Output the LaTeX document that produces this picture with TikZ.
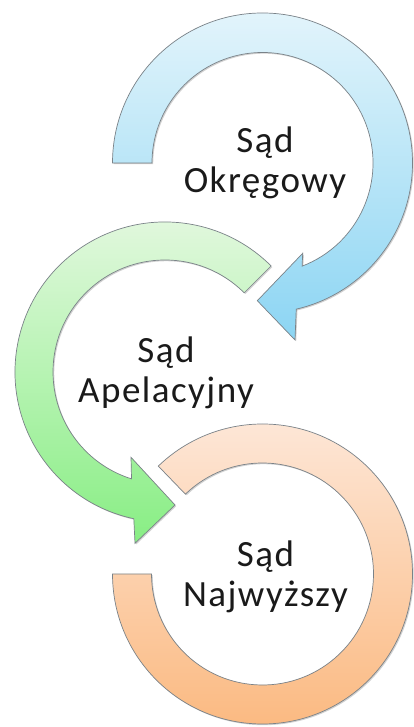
\documentclass[tikz,border=0pt]{standalone}
\usepackage{fontspec}
\setmainfont{Carlito}[LetterSpace=4]
\usetikzlibrary{shadows}
\definecolor{bluetop}{HTML}{E2F4FB}
\definecolor{bluebot}{HTML}{8CD5F3}
\definecolor{greentop}{HTML}{E4F8E0}
\definecolor{greenbot}{HTML}{88EE84}
\definecolor{orangetop}{HTML}{FDE6D6}
\definecolor{orangebot}{HTML}{FBBA82}
\definecolor{edgegray}{HTML}{7A8288}
\definecolor{txt}{HTML}{1A1A1A}
\tikzset{
  band/.style={draw=edgegray, line width=0.7pt, line join=miter,
    drop shadow={shadow xshift=1.2pt, shadow yshift=-1.2pt, opacity=0.18, fill=black}},
  lbl/.style={font=\fontsize{37}{40}\selectfont, text=txt, align=center, inner sep=0pt, anchor=base}
}
\begin{document}
\begin{tikzpicture}[x=1pt,y=1pt]
\useasboundingbox (0,0) rectangle (414,727);
\fill[white] (0,0) rectangle (414,727);
\coordinate (cb) at (262.5,564);
\coordinate (cg) at (165,355);
\coordinate (co) at (262.5,153);
% orange
\path[band, top color=orangetop, bottom color=orangebot]
  ([shift={(co)}]180:150) arc[start angle=180, end angle=494, radius=150]
  -- ([shift={(co)}]134:111) arc[start angle=494, end angle=180, radius=111] -- cycle;
% green
\path[band, top color=greentop, bottom color=greenbot]
  ([shift={(cg)}]45:112) arc[start angle=45, end angle=252.6, radius=112]
  -- (131,269.7) -- (175,222) -- (135,183.7)
  -- ([shift={(cg)}]258:150) arc[start angle=258, end angle=45, radius=150] -- cycle;
% blue
\path[band, top color=bluetop, bottom color=bluebot]
  ([shift={(cb)}]180:150) arc[start angle=180, end angle=-77, radius=150]
  -- (295,387) -- (257.3,426.3) -- (302.7,473.7)
  -- ([shift={(cb)}]-69:110.5) arc[start angle=-69, end angle=180, radius=110.5] -- cycle;
\node[lbl] (okr) at (265,534) {Sąd\\Okręgowy};
\node[lbl] (ape) at (166,324) {Sąd\\Apelacyjny};
\node[lbl] (naj) at (265.5,120) {Sąd\\Najwyższy};
\end{tikzpicture}
\end{document}
